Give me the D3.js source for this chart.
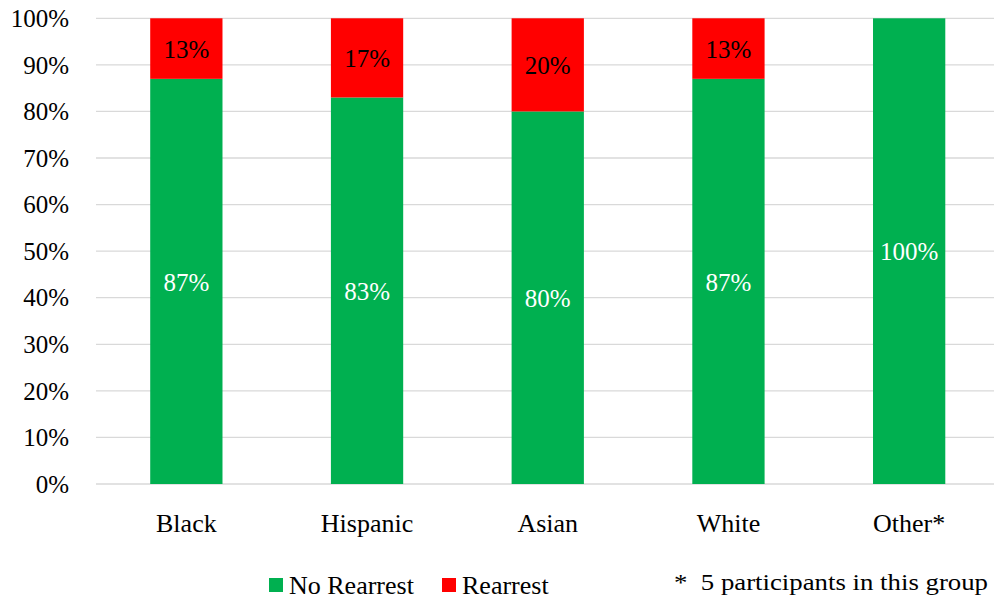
<!DOCTYPE html>
<html><head><meta charset="utf-8">
<script src="https://cdn.jsdelivr.net/npm/d3@7"></script>
<style>body{margin:0;background:#fff}svg{display:block}svg text{font-family:"Liberation Serif","Times New Roman",serif}</style>
</head><body><svg id="c" width="994" height="600"></svg>
<script>
const categories = ["Black","Hispanic","Asian","White","Other*"];
const noRearrest = [87,83,80,87,100];
const rearrest = [13,17,20,13,0];
const yTicks = [0,10,20,30,40,50,60,70,80,90,100];
const seriesNames = ["No Rearrest","Rearrest"];
const colors = ["#00B050","#FF0000"];
const footnote = "*  5 participants in this group";

const svg = d3.select("#c");
const x = d3.scaleBand().domain(categories).range([96, 999.5]).paddingInner(0.6).paddingOuter(0.3);
const y = d3.scaleLinear().domain([0,100]).range([484,18.3]);

svg.append("g").selectAll("line").data(yTicks).join("line")
  .attr("x1",96).attr("x2",994).attr("y1",d=>y(d)).attr("y2",d=>y(d))
  .attr("stroke","#d9d9d9").attr("stroke-width",1.3);

const yAxis = svg.append("g").attr("transform","translate(69,0)")
  .call(d3.axisLeft(y).tickValues(yTicks).tickFormat(d=>d+"%").tickSize(0).tickPadding(0));
yAxis.select(".domain").remove();
yAxis.selectAll("text").attr("font-family",null).attr("font-size",25).attr("fill","#000").attr("dy","0.33em");
yAxis.attr("font-family",null);

const xAxis = svg.append("g").attr("transform","translate(0,532)")
  .call(d3.axisBottom(x).tickSize(0).tickPadding(0));
xAxis.select(".domain").remove();
xAxis.attr("font-family",null);
xAxis.selectAll("text").attr("font-size",26).attr("fill","#000").attr("dy",null).attr("y",0);

const data = categories.map((c,i)=>({c, a:noRearrest[i], b:rearrest[i]}));
const stack = d3.stack().keys(["a","b"])(data);
stack.forEach((s,si)=>{
  const g = svg.append("g");
  g.selectAll("rect").data(s).join("rect")
    .attr("x",d=>x(d.data.c)).attr("width",x.bandwidth())
    .attr("y",d=>y(d[1])).attr("height",d=>y(d[0])-y(d[1]))
    .attr("fill",colors[si]);
  g.selectAll("text").data(s.filter(d=>d[1]-d[0]>0)).join("text")
    .attr("x",d=>x(d.data.c)+x.bandwidth()/2)
    .attr("y",d=>y((d[0]+d[1])/2))
    .attr("dy","0.37em").attr("text-anchor","middle")
    .attr("font-size",25)
    .attr("fill",si===0?"#fff":"#000")
    .text(d=>(d[1]-d[0])+"%");
});

const leg = svg.append("g");
const legX = [269,442];
seriesNames.forEach((n,i)=>{
  leg.append("rect").attr("x",legX[i]).attr("y",578).attr("width",14).attr("height",14).attr("fill",colors[i]);
  leg.append("text").attr("x",legX[i]+20).attr("y",594)
    .attr("font-size",26).attr("fill","#000").text(n);
});
svg.append("text").attr("x",674).attr("y",590)
  .attr("font-size",24).attr("fill","#000")
  .attr("textLength",314).attr("lengthAdjust","spacingAndGlyphs")
  .style("white-space","pre").text(footnote);
</script></body></html>
